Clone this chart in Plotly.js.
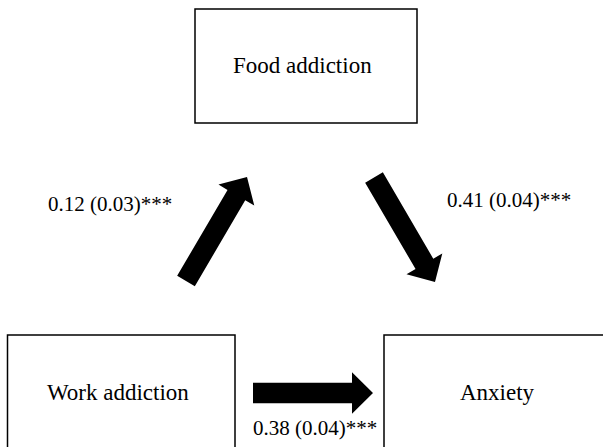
<!DOCTYPE html>
<html>
<head>
<meta charset="utf-8">
<script src="https://cdn.plot.ly/plotly-3.0.1.min.js"></script>
<style>html,body{margin:0;padding:0;background:#fff;}#chart{width:603px;height:447px;}</style>
</head>
<body>
<div id="chart"></div>
<script>
// ---- data ----
var nodeNames = ["Food addiction", "Work addiction", "Anxiety"];
var pathFrom = ["Work addiction", "Food addiction", "Work addiction"];
var pathTo = ["Food addiction", "Anxiety", "Anxiety"];
var pathCoef = ["0.12", "0.41", "0.38"];
var pathSE = ["0.03", "0.04", "0.04"];
var pathSig = ["***", "***", "***"];

// ---- layout geometry (not data) ----
var FONT = "Liberation Serif";
var boxGeom = {
  "Food addiction": {x0: 195, y0: 9, x1: 417, y1: 123, tx: 302.5, ty: 65},
  "Work addiction": {x0: 7.5, y0: 335, x1: 235, y1: 460, tx: 118, ty: 392},
  "Anxiety": {x0: 384, y0: 335, x1: 620, y1: 460, tx: 497, ty: 392}
};
var arrowGeom = [
  {tail: [186, 281], tip: [247, 177], lx: 109.5, ly: 204},
  {tail: [374, 177.5], tip: [435, 282], lx: 509, ly: 200},
  {tail: [253, 393], tip: [373, 393], lx: 314.5, ly: 428}
];
var shaftW = 20.5, headW = 41.5, headL = 21;

var shapes = [], annotations = [];
nodeNames.forEach(function (n) {
  var g = boxGeom[n];
  shapes.push({type: "rect", xref: "x", yref: "y", x0: g.x0, x1: g.x1, y0: g.y0, y1: g.y1,
    line: {color: "#000", width: 1.5}, fillcolor: "rgba(0,0,0,0)"});
  annotations.push({x: g.tx, y: g.ty, xref: "x", yref: "y", text: n, showarrow: false,
    xanchor: "center", yanchor: "middle",
    font: {family: FONT, size: 23, color: "#000"}});
});

function arrowPath(t, p) {
  var dx = p[0] - t[0], dy = p[1] - t[1];
  var L = Math.sqrt(dx * dx + dy * dy);
  var ux = dx / L, uy = dy / L, nx = -uy, ny = ux;
  var bx = p[0] - ux * headL, by = p[1] - uy * headL;
  var pts = [
    [t[0] + nx * shaftW / 2, t[1] + ny * shaftW / 2],
    [bx + nx * shaftW / 2, by + ny * shaftW / 2],
    [bx + nx * headW / 2, by + ny * headW / 2],
    [p[0], p[1]],
    [bx - nx * headW / 2, by - ny * headW / 2],
    [bx - nx * shaftW / 2, by - ny * shaftW / 2],
    [t[0] - nx * shaftW / 2, t[1] - ny * shaftW / 2]
  ];
  return "M" + pts.map(function (q) { return q[0].toFixed(2) + "," + q[1].toFixed(2); }).join(" L") + " Z";
}

for (var i = 0; i < pathCoef.length; i++) {
  var g = arrowGeom[i];
  shapes.push({type: "path", xref: "x", yref: "y", path: arrowPath(g.tail, g.tip),
    fillcolor: "#000", line: {color: "#000", width: 0}});
  annotations.push({x: g.lx, y: g.ly, xref: "x", yref: "y",
    text: pathCoef[i] + " (" + pathSE[i] + ")" + pathSig[i], showarrow: false,
    xanchor: "center", yanchor: "middle",
    font: {family: FONT, size: 21, color: "#000"}});
}

var layout = {
  width: 603, height: 447,
  margin: {l: 0, r: 0, t: 0, b: 0},
  paper_bgcolor: "#fff", plot_bgcolor: "#fff",
  font: {family: FONT},
  xaxis: {range: [0, 603], visible: false, fixedrange: true},
  yaxis: {range: [447, 0], visible: false, fixedrange: true},
  showlegend: false,
  shapes: shapes,
  annotations: annotations
};
Plotly.newPlot("chart", [{x: [], y: [], type: "scatter", mode: "markers", hoverinfo: "skip"}], layout, {staticPlot: true, displayModeBar: false});
</script>
</body>
</html>
